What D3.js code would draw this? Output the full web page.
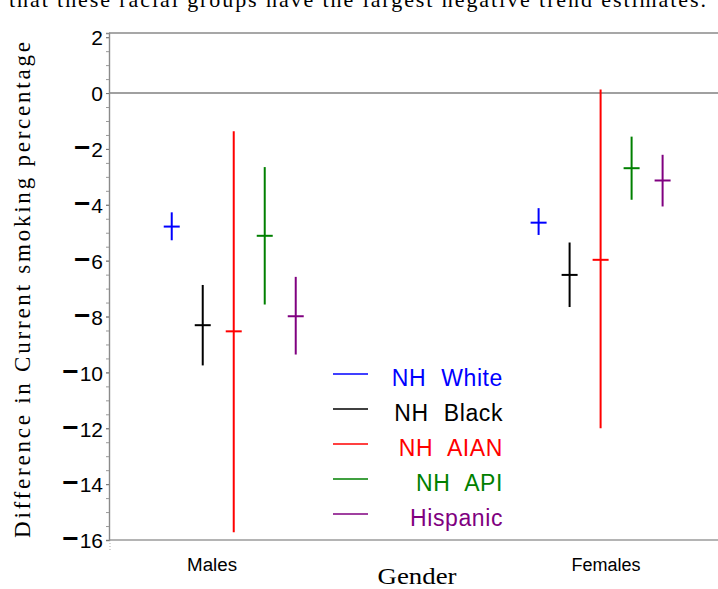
<!DOCTYPE html>
<html><head><meta charset="utf-8">
<script src="https://cdn.jsdelivr.net/npm/d3@7"></script>
<style>
html,body{margin:0;padding:0;background:#fff;}
svg{display:block;}
</style>
</head><body>
<svg id="c" width="718" height="589"></svg>
<script>
// ---- data ----
const genders = ["Males", "Females"];
const genderCodes = [1, 2];
const genderTickPos = [0.941, 2.015];
const groups = ["NH White", "NH Black", "NH AIAN", "NH API", "Hispanic"];
const malesEst = [-4.78, -8.31, -8.53, -5.11, -7.99];
const malesLo  = [-5.27, -9.75, -15.72, -7.57, -9.36];
const malesHi  = [-4.27, -6.87, -1.37, -2.65, -6.58];
const femalesEst = [-4.64, -6.51, -5.97, -2.69, -3.13];
const femalesLo  = [-5.08, -7.66, -12.00, -3.82, -4.06];
const femalesHi  = [-4.12, -5.35, 0.13, -1.56, -2.21];
const yTicks = [2, 0, -2, -4, -6, -8, -10, -12, -14, -16];
const palette = ["#0000ff", "#000000", "#ff0000", "#008000", "#800080"];

const est = [malesEst, femalesEst], lo = [malesLo, femalesLo], hi = [malesHi, femalesHi];
const rows = [];
genders.forEach((g, gi) => groups.forEach((k, ki) => rows.push({
  g, gi, k, ki, est: est[gi][ki], lo: lo[gi][ki], hi: hi[gi][ki]
})));

const svg = d3.select("#c");
const pL = 109, pR = 718, pT = 33, pB = 540;

const x = d3.scaleLinear().domain([0.66, 2.32]).range([pL, pR]);
const y = d3.scaleLinear().domain([-16, 2.15]).range([pB, pT]);
const off = d3.scalePoint().domain(groups).range([-62, 62]);
const color = d3.scaleOrdinal().domain(groups).range(palette);

// caption fragment at top (cut off in the source too)
svg.append("text").attr("x", 9).attr("y", 7)
  .attr("font-family", "Liberation Serif, Times New Roman, serif").attr("font-size", 22)
  .attr("textLength", 697).attr("lengthAdjust", "spacing")
  .text("that these racial groups have the largest negative trend estimates.");

// frame
svg.append("line").attr("x1", pL).attr("x2", pR).attr("y1", pT).attr("y2", pT)
  .attr("stroke", "#8a8a8a").attr("stroke-width", 1.6);
svg.append("line").attr("x1", pL).attr("x2", pR).attr("y1", pB).attr("y2", pB)
  .attr("stroke", "#b4b4b4").attr("stroke-width", 2);
svg.append("line").attr("x1", pL).attr("x2", pR).attr("y1", y(0)).attr("y2", y(0))
  .attr("stroke", "#808080").attr("stroke-width", 1.4);

// y axis
const minor = d3.range(-16, 2.01, 0.5);
svg.append("g").attr("transform", `translate(${pL},0)`)
  .call(d3.axisLeft(y).tickValues(minor).tickSize(3).tickFormat(""))
  .call(g => g.select(".domain").attr("stroke", "#8a8a8a").attr("stroke-width", 1.4))
  .call(g => g.selectAll(".tick line").attr("stroke", "#999").attr("stroke-width", 1));

const yAx = svg.append("g").attr("transform", `translate(${pL},0)`)
  .call(d3.axisLeft(y).tickValues(yTicks).tickSize(3).tickFormat(""))
  .call(g => g.select(".domain").remove())
  .call(g => g.selectAll(".tick line").attr("stroke", "#777").attr("stroke-width", 1));
yAx.selectAll(".tick").each(function(d) {
  const t = d3.select(this).append("text")
    .attr("x", -6).attr("dy", "0.37em").attr("text-anchor", "end")
    .attr("font-family", "Liberation Sans, Arial, sans-serif").attr("font-size", 21)
    .attr("fill", "#000");
  if (d < 0) {
    t.append("tspan").attr("font-size", 28).attr("font-weight", "bold").text("\u2212");
    t.append("tspan").attr("dx", 1).text(String(Math.abs(d)));
  } else {
    t.text(String(d));
  }
});

// small mark below axis corner
svg.append("line").attr("x1", x.range()[0] + 1).attr("x2", x.range()[0] + 1)
  .attr("y1", pB + 3).attr("y2", pB + 10)
  .attr("stroke", "#aaa").attr("stroke-width", 1).attr("stroke-dasharray", "1,2");

// x tick labels
svg.append("g").selectAll("text").data(genders).join("text")
  .attr("x", (d, i) => x(genderTickPos[i])).attr("y", 571)
  .attr("text-anchor", "middle")
  .attr("font-family", "Liberation Sans, Arial, sans-serif").attr("font-size", 18)
  .attr("textLength", (d) => d === "Males" ? 50 : 69).attr("lengthAdjust", "spacingAndGlyphs")
  .text(d => d);

// axis titles
svg.append("text").attr("x", 417).attr("y", 584).attr("text-anchor", "middle")
  .attr("font-family", "Liberation Serif, Times New Roman, serif").attr("font-size", 23)
  .attr("textLength", 79).attr("lengthAdjust", "spacingAndGlyphs")
  .text("Gender");
svg.append("text").attr("transform", "translate(30,290) rotate(-90)")
  .attr("text-anchor", "middle")
  .attr("font-family", "Liberation Serif, Times New Roman, serif").attr("font-size", 23)
  .attr("textLength", 496).attr("lengthAdjust", "spacing")
  .text("Difference in Current smoking percentage");

// error bars
const px = d => x(genderCodes[d.gi]) + off(d.k);
const marks = svg.append("g");
marks.selectAll("line.v").data(rows).join("line").attr("class", "v")
  .attr("x1", px).attr("x2", px)
  .attr("y1", d => y(d.hi)).attr("y2", d => y(d.lo))
  .attr("stroke", d => color(d.k)).attr("stroke-width", 2);
marks.selectAll("line.h").data(rows).join("line").attr("class", "h")
  .attr("x1", d => px(d) - 8).attr("x2", d => px(d) + 8)
  .attr("y1", d => y(d.est)).attr("y2", d => y(d.est))
  .attr("stroke", d => color(d.k)).attr("stroke-width", 2);

// legend
const leg = svg.append("g").selectAll("g").data(groups).join("g")
  .attr("transform", (d, i) => `translate(0,${374 + i * 35})`);
leg.append("line").attr("x1", 333).attr("x2", 368).attr("y1", 0).attr("y2", 0)
  .attr("stroke", d => color(d)).attr("stroke-width", 1.6);
leg.append("text").attr("x", 503).attr("y", 12).attr("text-anchor", "end")
  .attr("font-family", "Liberation Sans, Arial, sans-serif").attr("font-size", 23)
  .attr("letter-spacing", 0.6).attr("word-spacing", 8)
  .attr("fill", d => color(d)).text(d => d);
</script>
</body></html>
